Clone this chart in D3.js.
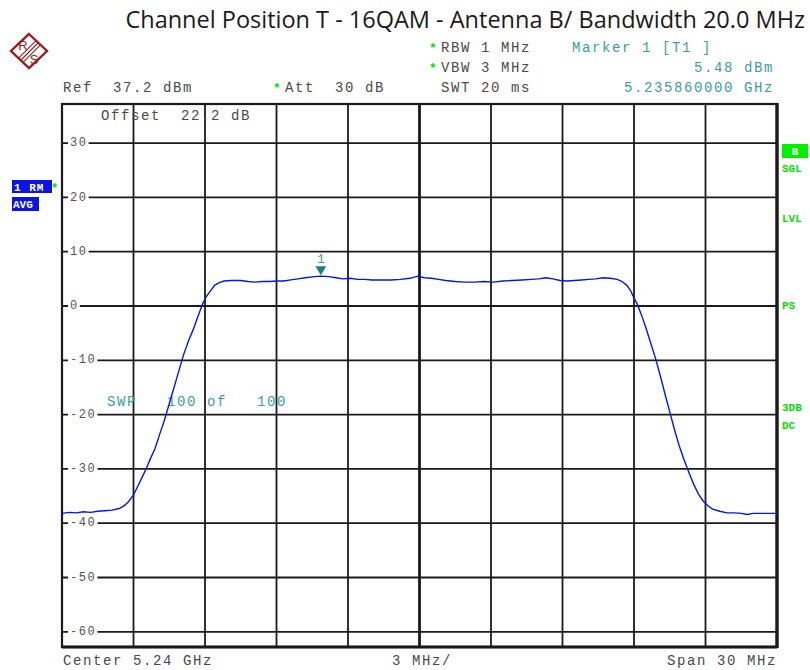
<html>
<head>
<script src="https://d3js.org/d3.v7.min.js"></script>
<style>
  body { margin: 0; background: #fff; }
  text { white-space: pre; }
  text.mono { font-family: "Liberation Mono", monospace; font-size: 14px; letter-spacing: 1.6px; }
</style>
</head>
<body>
<svg id="chart" width="810" height="670"></svg>
<script>
// trace: offset from 5.24 GHz centre (MHz) and level (dBm)
var traceMHz = [-15.0, -14.7, -14.4, -14.1, -13.8, -13.5, -13.2, -12.9, -12.6, -12.4,
  -12.2, -12.0, -11.8, -11.6, -11.45, -11.3, -11.1, -10.9, -10.7, -10.5,
  -10.3, -10.1, -9.9, -9.7, -9.5, -9.3, -9.1, -8.95, -8.8, -8.6,
  -8.4, -8.2, -7.9, -7.5, -7.2, -6.9, -6.6, -6.3, -6.0, -5.7,
  -5.4, -5.1, -4.8, -4.4, -4.14, -3.8, -3.5, -3.2, -2.9, -2.6,
  -2.3, -2.0, -1.6, -1.2, -0.8, -0.4, -0.07, 0.2, 0.5, 0.8,
  1.1, 1.5, 1.9, 2.3, 2.7, 3.1, 3.5, 3.9, 4.3, 4.7,
  5.0, 5.3, 5.6, 5.9, 6.2, 6.5, 6.8, 7.1, 7.4, 7.7,
  8.0, 8.3, 8.5, 8.7, 8.85, 9.0, 9.15, 9.3, 9.5, 9.7,
  9.9, 10.1, 10.3, 10.5, 10.7, 10.9, 11.1, 11.3, 11.5, 11.7,
  11.9, 12.1, 12.3, 12.6, 12.9, 13.2, 13.5, 13.75, 14.0, 14.4,
  14.7, 15.0];
var traceDbm = [-38.2, -38.0, -38.1, -37.9, -38.0, -37.8, -37.7, -37.6, -37.3, -36.8,
  -36.0, -34.8, -33.0, -31.2, -29.8, -28.2, -26.3, -23.6, -21.0, -18.0,
  -15.0, -12.0, -9.0, -6.5, -4.4, -2.0, 0.4, 1.7, 2.6, 3.8,
  4.3, 4.6, 4.7, 4.7, 4.5, 4.4, 4.5, 4.5, 4.6, 4.6,
  4.8, 5.0, 5.2, 5.4, 5.5, 5.4, 5.2, 5.0, 5.1, 4.9,
  4.9, 4.8, 4.8, 4.8, 4.9, 5.1, 5.5, 5.2, 5.1, 4.9,
  4.7, 4.5, 4.4, 4.4, 4.5, 4.4, 4.6, 4.7, 4.8, 4.9,
  5.0, 5.2, 5.0, 4.7, 4.6, 4.7, 4.8, 4.9, 5.0, 5.2,
  5.1, 4.9, 4.5, 3.8, 2.9, 1.5, 0.2, -1.5, -4.0, -6.8,
  -9.6, -12.8, -16.2, -19.5, -22.8, -25.8, -28.3, -30.6, -32.8, -34.6,
  -35.9, -36.8, -37.4, -37.8, -38.1, -38.1, -38.2, -38.4, -38.2, -38.2,
  -38.2, -38.2];

var yTicks = [30, 20, 10, 0, -10, -20, -30, -40, -50, -60];
var xDivs = [-15, -12, -9, -6, -3, 0, 3, 6, 9, 12, 15];
var refLevel = 37.2, range = 100;
var markerMHz = -4.14, markerDbm = 5.48;

var headerRows = [
  ["RBW 1 MHz", "Marker 1 [T1 ]"],
  ["VBW 3 MHz", "5.48 dBm"],
  ["SWT 20 ms", "5.235860000 GHz"]
];
var sideLabels = [["SGL", 172], ["LVL", 222], ["PS", 309], ["3DB", 411], ["DC", 429]];

var svg = d3.select("#chart");
var plotL = 62, plotR = 777, plotT = 104, plotB = 647;

var x = d3.scaleLinear().domain([-15, 15]).range([plotL, plotR]);
var y = d3.scaleLinear().domain([refLevel - range, refLevel]).range([plotB, plotT]);

var grey = "#4a4a4a", teal = "#3a9e9e", green = "#00e000", blue = "#0018e8";

// title
svg.append("text").attr("x", 805).attr("y", 28).attr("text-anchor", "end")
  .style("font-family", "'Open Sans', sans-serif").style("font-size", "23.5px")
  .attr("fill", "#1a1a1a").text("Channel Position T - 16QAM - Antenna B/ Bandwidth 20.0 MHz");

// R&S logo
var red = "#9c1c1c";
var logo = svg.append("g").attr("transform", "translate(29,51)");
logo.append("path").attr("d", "M0,-17 L18,0 L0,17 L-18,0 Z")
  .attr("fill", "none").attr("stroke", red).attr("stroke-width", 2.4);
[-2.2, 0, 2.2].forEach(function(o) {
  logo.append("line").attr("x1", 9 + o).attr("y1", -8 + o).attr("x2", -8 + o).attr("y2", 9 + o)
    .attr("stroke", red).attr("stroke-width", 1.1);
});
logo.append("text").attr("x", -6).attr("y", -1).attr("text-anchor", "middle")
  .style("font-family", "'Liberation Sans', sans-serif").style("font-size", "13px").attr("fill", red).text("R");
logo.append("text").attr("x", 5).attr("y", 13).attr("text-anchor", "middle")
  .style("font-family", "'Liberation Sans', sans-serif").style("font-size", "13px").attr("fill", red).text("S");

// header text
headerRows.forEach(function(r, i) {
  var by = 52 + i * 20;
  if (i < 2) svg.append("text").attr("x", 429).attr("y", by).attr("fill", green)
    .style("font-family", "'Liberation Mono', monospace").style("font-size", "13px").style("font-weight", "bold").text("*");
  svg.append("text").attr("class", "mono").attr("x", 441).attr("y", by).attr("fill", grey).text(r[0]);
  if (i == 0) svg.append("text").attr("class", "mono").attr("x", 572).attr("y", by).attr("fill", teal).text(r[1]);
  else svg.append("text").attr("class", "mono").attr("x", 774).attr("y", by).attr("text-anchor", "end").attr("fill", teal).text(r[1]);
});
svg.append("text").attr("class", "mono").attr("x", 63).attr("y", 92).attr("fill", grey).text("Ref  37.2 dBm");
svg.append("text").attr("x", 273).attr("y", 92).attr("fill", green)
  .style("font-family", "'Liberation Mono', monospace").style("font-size", "13px").style("font-weight", "bold").text("*");
svg.append("text").attr("class", "mono").attr("x", 285).attr("y", 92).attr("fill", grey).text("Att  30 dB");

// grid
var grid = svg.append("g").attr("stroke", "#1a1a1a");
grid.selectAll("line.h").data(yTicks).enter().append("line")
  .attr("x1", plotL).attr("x2", plotR).attr("y1", function(d) { return y(d); }).attr("y2", function(d) { return y(d); })
  .attr("stroke-width", 1.8);
grid.selectAll("line.v").data(xDivs.slice(1, -1)).enter().append("line")
  .attr("y1", plotT).attr("y2", plotB).attr("x1", function(d) { return x(d); }).attr("x2", function(d) { return x(d); })
  .attr("stroke-width", function(d) { return d == 0 ? 2.8 : 1.8; });
grid.append("rect").attr("x", plotL).attr("y", plotT).attr("width", plotR - plotL).attr("height", plotB - plotT)
  .attr("fill", "none").attr("stroke-width", 2.2);
grid.append("line").attr("x1", plotR).attr("x2", plotR).attr("y1", plotT - 1).attr("y2", plotB + 1).attr("stroke-width", 3.4);
grid.append("line").attr("x1", plotL).attr("x2", plotR).attr("y1", plotB).attr("y2", plotB).attr("stroke-width", 2.8);

// y tick labels sitting on the grid lines
var yl = svg.append("g");
yTicks.forEach(function(d) {
  var t = yl.append("text").attr("x", 70).attr("y", y(d)).attr("dominant-baseline", "middle")
    .style("font-family", "'Liberation Mono', monospace").style("font-size", "12px").style("letter-spacing", "1.6px")
    .attr("fill", "#555").text(d);
  var w = t.node().getComputedTextLength();
  yl.insert("rect", "text").attr("x", 68).attr("y", y(d) - 3).attr("width", w + 3).attr("height", 6).attr("fill", "#fff");
});

// overlay texts in the plot
svg.append("text").attr("class", "mono").attr("x", 101).attr("y", 120).attr("fill", grey).text("Offset  22.2 dB");
svg.append("text").attr("class", "mono").attr("x", 107).attr("y", 406).attr("fill", teal).text("SWP   100 of   100");

// trace
var pts = traceMHz.map(function(f, i) { return [f, traceDbm[i]]; });
svg.append("path").datum(pts)
  .attr("d", d3.line().x(function(d) { return x(d[0]); }).y(function(d) { return y(d[1]); }))
  .attr("fill", "none").attr("stroke", blue).attr("stroke-width", 1.4);

// marker
var mx = x(markerMHz), my = y(markerDbm);
svg.append("path").attr("d", "M" + (mx - 5.5) + "," + (my - 10) + "L" + (mx + 5.5) + "," + (my - 10) + "L" + mx + "," + (my - 1) + "Z")
  .attr("fill", "#1f7f7c");
svg.append("text").attr("x", mx).attr("y", my - 13).attr("text-anchor", "middle")
  .style("font-family", "'Liberation Mono', monospace").style("font-size", "13px").attr("fill", teal).text("1");

// left badges
svg.append("rect").attr("x", 12).attr("y", 180).attr("width", 40).attr("height", 13).attr("fill", "#0a14e6");
svg.append("text").attr("x", 14).attr("y", 190.5).attr("fill", "#fff")
  .style("font-family", "'Liberation Mono', monospace").style("font-size", "11px").style("font-weight", "bold")
  .style("letter-spacing", "1px").text("1 RM");
svg.append("rect").attr("x", 12).attr("y", 197).attr("width", 27).attr("height", 14).attr("fill", "#0a14e6");
svg.append("text").attr("x", 13).attr("y", 208).attr("fill", "#fff")
  .style("font-family", "'Liberation Mono', monospace").style("font-size", "11px").style("font-weight", "bold").text("AVG");
svg.append("text").attr("x", 51).attr("y", 192).attr("fill", green)
  .style("font-family", "'Liberation Mono', monospace").style("font-size", "12px").style("font-weight", "bold").text("*");

// right side status
svg.append("rect").attr("x", 782).attr("y", 144).attr("width", 26).attr("height", 14).attr("fill", "#00f000");
svg.append("text").attr("x", 795).attr("y", 155).attr("text-anchor", "middle").attr("fill", "#fff")
  .style("font-family", "'Liberation Mono', monospace").style("font-size", "11px").style("font-weight", "bold").text("B");
sideLabels.forEach(function(s) {
  svg.append("text").attr("x", 782).attr("y", s[1]).attr("fill", green)
    .style("font-family", "'Liberation Mono', monospace").style("font-size", "11px").style("font-weight", "bold").text(s[0]);
});

// bottom labels
svg.append("text").attr("class", "mono").attr("x", 63).attr("y", 665).attr("fill", grey).text("Center 5.24 GHz");
svg.append("text").attr("class", "mono").attr("x", 392).attr("y", 665).attr("fill", grey).text("3 MHz/");
svg.append("text").attr("class", "mono").attr("x", 777).attr("y", 665).attr("text-anchor", "end").attr("fill", grey).text("Span 30 MHz");
</script>
</body>
</html>
